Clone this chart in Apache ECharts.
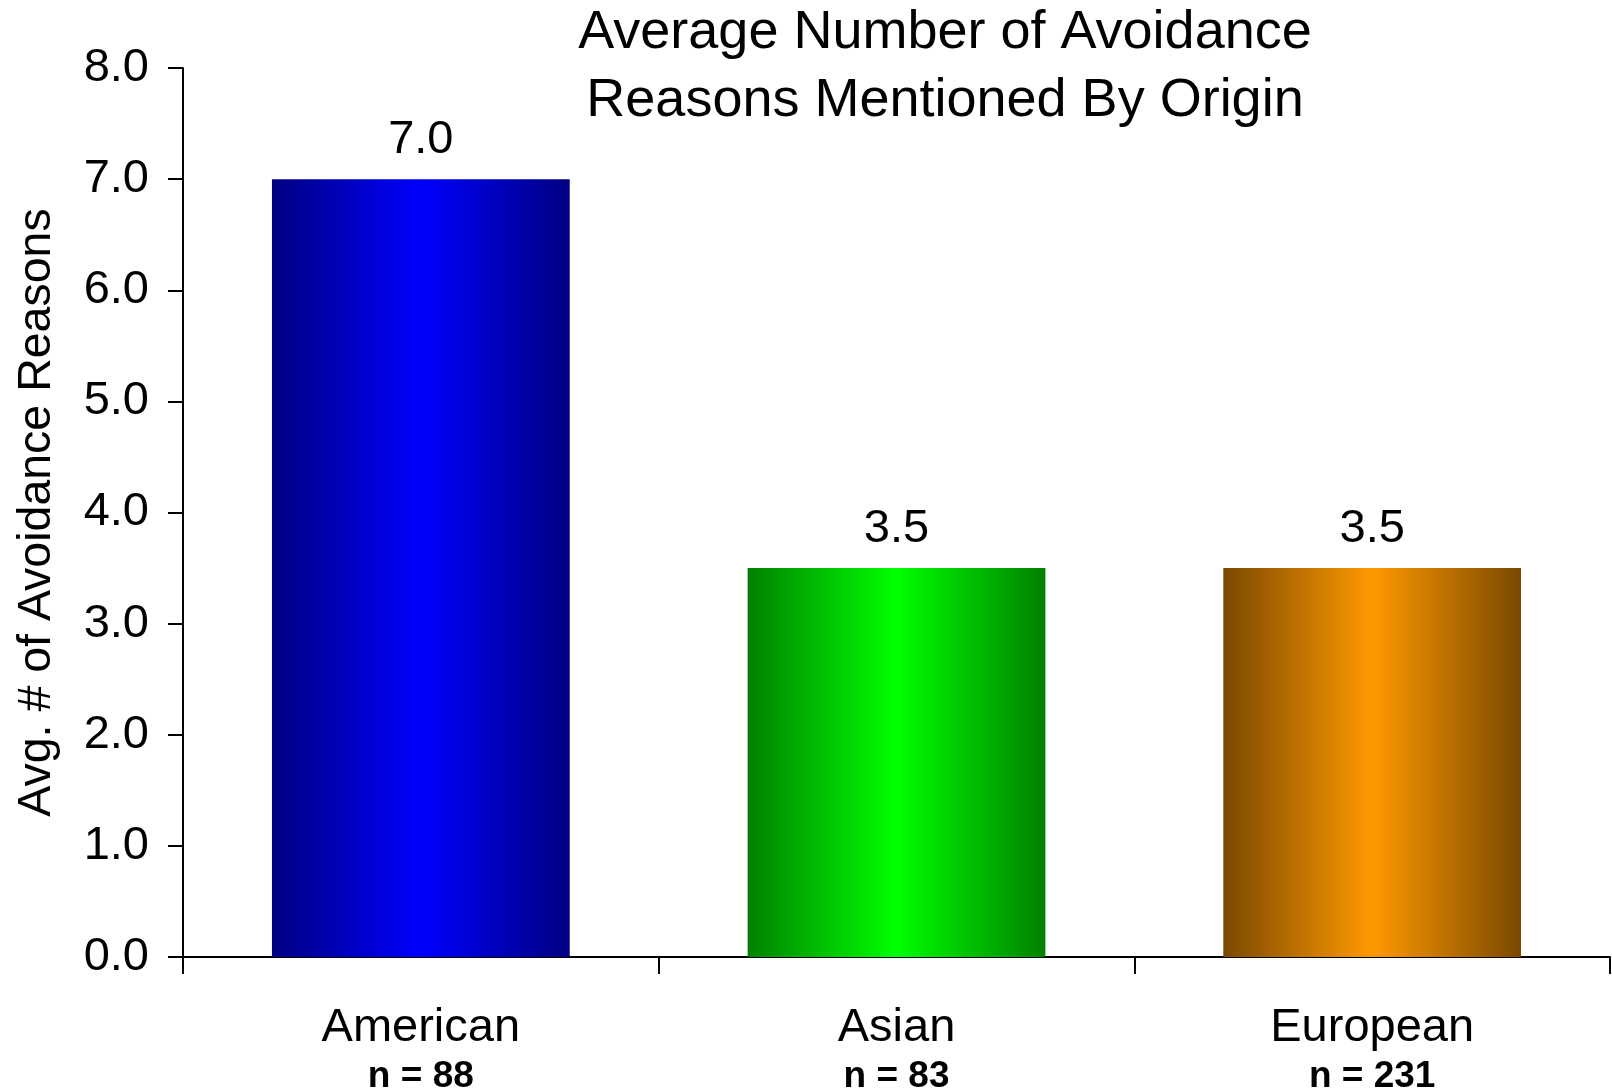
<!DOCTYPE html>
<html>
<head>
<meta charset="utf-8">
<script src="https://cdn.jsdelivr.net/npm/echarts@6/dist/echarts.min.js"></script>
<style>
html,body{margin:0;padding:0;background:#fff;}
#chart{width:1612px;height:1092px;}
</style>
</head>
<body>
<div id="chart"></div>
<script>
const titleLines = ['Average Number of Avoidance', 'Reasons Mentioned By Origin'];
const yAxisName = 'Avg. # of Avoidance Reasons';
const categories = ['American', 'Asian', 'European'];
const sampleSizes = ['n = 88', 'n = 83', 'n = 231'];
const values = [7.0, 3.5, 3.5];
const edgeColors = ['#000080', '#008000', '#7A4800'];
const centerColors = ['#0000FF', '#00FF00', '#FF9900'];

const FONT = '"Liberation Sans", Arial, sans-serif';
const chart = echarts.init(document.getElementById('chart'), null, {renderer: 'canvas'});

const option = {
  animation: false,
  backgroundColor: '#ffffff',
  title: {
    text: titleLines.join('\n'),
    left: 940,
    top: -6,
    textAlign: 'center',
    textStyle: {fontFamily: FONT, fontSize: 54, fontWeight: 'normal', color: '#000', lineHeight: 68}
  },
  grid: {left: 183, right: 2, top: 68, bottom: 135, containLabel: false, outerBoundsMode: 'none'},
  xAxis: {
    type: 'category',
    data: categories,
    axisLine: {show: true, lineStyle: {color: '#000', width: 2}},
    axisTick: {show: true, length: 17, lineStyle: {color: '#000', width: 2}},
    axisLabel: {
      margin: 46,
      formatter: function (v, i) { return '{a|' + v + '}\n{b|' + sampleSizes[i] + '}'; },
      rich: {
        a: {fontFamily: FONT, fontSize: 47, lineHeight: 50, color: '#000'},
        b: {fontFamily: FONT, fontSize: 37, fontWeight: 'bold', lineHeight: 48, color: '#000'}
      }
    }
  },
  yAxis: {
    type: 'value',
    min: 0,
    max: 8,
    interval: 1,
    name: yAxisName,
    nameLocation: 'middle',
    nameGap: 122,
    nameRotate: 90,
    nameTextStyle: {fontFamily: FONT, fontSize: 46.5, color: '#000'},
    axisLine: {show: true, lineStyle: {color: '#000', width: 2}},
    axisTick: {show: true, length: 15, lineStyle: {color: '#000', width: 2}},
    splitLine: {show: false},
    axisLabel: {
      margin: 34,
      fontFamily: FONT, fontSize: 47, color: '#000',
      formatter: function (v) { return v.toFixed(1); }
    }
  },
  series: [{
    type: 'bar',
    barWidth: '62.6%',
    data: values.map(function (v, i) {
      return {
        value: v,
        itemStyle: {
          color: new echarts.graphic.LinearGradient(0, 0, 1, 0, [
            {offset: 0, color: edgeColors[i]},
            {offset: 0.5, color: centerColors[i]},
            {offset: 1, color: edgeColors[i]}
          ])
        }
      };
    }),
    label: {
      show: true,
      position: 'top',
      distance: 16,
      fontFamily: FONT,
      fontSize: 47,
      color: '#000',
      formatter: function (p) { return p.value.toFixed(1); }
    }
  }]
};
chart.setOption(option);
</script>
</body>
</html>
